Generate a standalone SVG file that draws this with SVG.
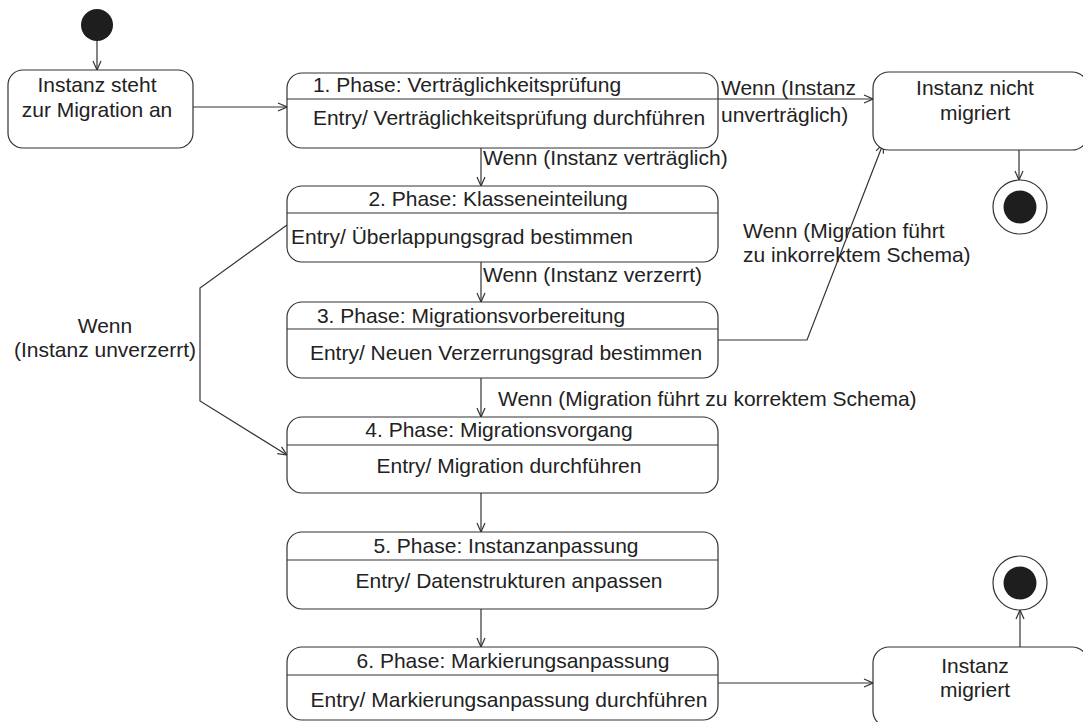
<svg xmlns="http://www.w3.org/2000/svg" width="1083" height="722" viewBox="0 0 1083 722">
  <style>
    text { font-family: "Liberation Sans", Arial, sans-serif; font-size: 21px; fill: #222; }
    .c { text-anchor: middle; }
    .box { fill: #fff; stroke: #333; stroke-width: 1.2; }
    .div { stroke: #333; stroke-width: 1.2; }
    .edge { fill: none; stroke: #333; stroke-width: 1.2; marker-end: url(#arrow); }
    .dot { fill: #1e1e1e; }
    .ring { fill: #fff; stroke: #333; stroke-width: 1.2; }
  </style>
  <defs>
    <marker id="arrow" viewBox="0 0 10 10" refX="10" refY="5" markerWidth="10" markerHeight="10" markerUnits="userSpaceOnUse" orient="auto">
      <path d="M1,1 L10,5 L1,9" fill="none" stroke="#333" stroke-width="1.2"/>
    </marker>
  </defs>
  <rect width="1083" height="722" fill="#fff"/>

  <!-- transitions -->
  <g id="connectors">
    <line class="edge" x1="97" y1="41" x2="97" y2="70"/>
    <line class="edge" x1="193" y1="107" x2="287" y2="107"/>
    <line class="edge" x1="718" y1="99" x2="873" y2="99"/>
    <line class="edge" x1="481" y1="148" x2="481" y2="186"/>
    <line class="edge" x1="481" y1="262" x2="481" y2="302"/>
    <line class="edge" x1="481" y1="378" x2="481" y2="417"/>
    <line class="edge" x1="481" y1="493" x2="481" y2="532"/>
    <line class="edge" x1="481" y1="609" x2="481" y2="647"/>
    <polyline class="edge" points="718,340 807,340 883,144"/>
    <polyline class="edge" points="287,225 200,288 200,401 287,455"/>
    <line class="edge" x1="1019" y1="150" x2="1019" y2="180"/>
    <line class="edge" x1="718" y1="683" x2="873" y2="683"/>
    <line class="edge" x1="1020" y1="647" x2="1020" y2="610"/>
    <text x="483" y="165">Wenn (Instanz verträglich)</text>
    <text x="483" y="282">Wenn (Instanz verzerrt)</text>
    <text x="498" y="406">Wenn (Migration führt zu korrektem Schema)</text>
    <text x="721" y="95">Wenn (Instanz</text>
    <text x="721" y="122">unverträglich)</text>
    <text x="743" y="238">Wenn (Migration führt</text>
    <text x="743" y="262">zu inkorrektem Schema)</text>
    <text class="c" x="105" y="333">Wenn</text>
    <text class="c" x="105" y="357">(Instanz unverzerrt)</text>
  </g>

  <!-- pseudo states -->
  <g id="initial">
    <circle class="dot" cx="97" cy="25" r="16"/>
  </g>
  <g id="final-not-migrated">
    <circle class="ring" cx="1020" cy="207" r="27"/>
    <circle class="dot" cx="1020" cy="207" r="16.5"/>
  </g>
  <g id="final-migrated">
    <circle class="ring" cx="1020" cy="583" r="27"/>
    <circle class="dot" cx="1020" cy="583" r="16.5"/>
  </g>

  <!-- simple states -->
  <g id="start">
    <rect class="box" x="8" y="70" width="185" height="78" rx="15"/>
    <text class="c" x="97" y="92">Instanz steht</text>
    <text class="c" x="97" y="117">zur Migration an</text>
  </g>
  <g id="not-migrated">
    <rect class="box" x="873" y="72" width="215" height="78" rx="16"/>
    <text class="c" x="975" y="95">Instanz nicht</text>
    <text class="c" x="975" y="120">migriert</text>
  </g>
  <g id="migrated">
    <rect class="box" x="873" y="647" width="215" height="80" rx="16"/>
    <text class="c" x="975" y="673">Instanz</text>
    <text class="c" x="975" y="697">migriert</text>
  </g>

  <!-- phase states -->
  <g id="phase1">
    <rect class="box" x="287" y="73" width="431" height="75" rx="15"/>
    <line class="div" x1="287" y1="99" x2="718" y2="99"/>
    <text class="c" x="467" y="92">1. Phase: Verträglichkeitsprüfung</text>
    <text class="c" x="509" y="125">Entry/ Verträglichkeitsprüfung durchführen</text>
  </g>
  <g id="phase2">
    <rect class="box" x="287" y="186" width="431" height="76" rx="15"/>
    <line class="div" x1="287" y1="213" x2="718" y2="213"/>
    <text class="c" x="498" y="206">2. Phase: Klasseneinteilung</text>
    <text class="c" x="462" y="244">Entry/ Überlappungsgrad bestimmen</text>
  </g>
  <g id="phase3">
    <rect class="box" x="287" y="302" width="431" height="76" rx="15"/>
    <line class="div" x1="287" y1="329" x2="718" y2="329"/>
    <text class="c" x="471" y="323">3. Phase: Migrationsvorbereitung</text>
    <text class="c" x="506" y="360">Entry/ Neuen Verzerrungsgrad bestimmen</text>
  </g>
  <g id="phase4">
    <rect class="box" x="287" y="417" width="431" height="76" rx="15"/>
    <line class="div" x1="287" y1="445" x2="718" y2="445"/>
    <text class="c" x="499" y="437">4. Phase: Migrationsvorgang</text>
    <text class="c" x="509" y="473">Entry/ Migration durchführen</text>
  </g>
  <g id="phase5">
    <rect class="box" x="287" y="532" width="431" height="77" rx="15"/>
    <line class="div" x1="287" y1="560" x2="718" y2="560"/>
    <text class="c" x="506" y="553">5. Phase: Instanzanpassung</text>
    <text class="c" x="509" y="588">Entry/ Datenstrukturen anpassen</text>
  </g>
  <g id="phase6">
    <rect class="box" x="287" y="647" width="431" height="73" rx="15"/>
    <line class="div" x1="287" y1="675" x2="718" y2="675"/>
    <text class="c" x="513" y="668">6. Phase: Markierungsanpassung</text>
    <text class="c" x="509" y="707">Entry/ Markierungsanpassung durchführen</text>
  </g>
</svg>
